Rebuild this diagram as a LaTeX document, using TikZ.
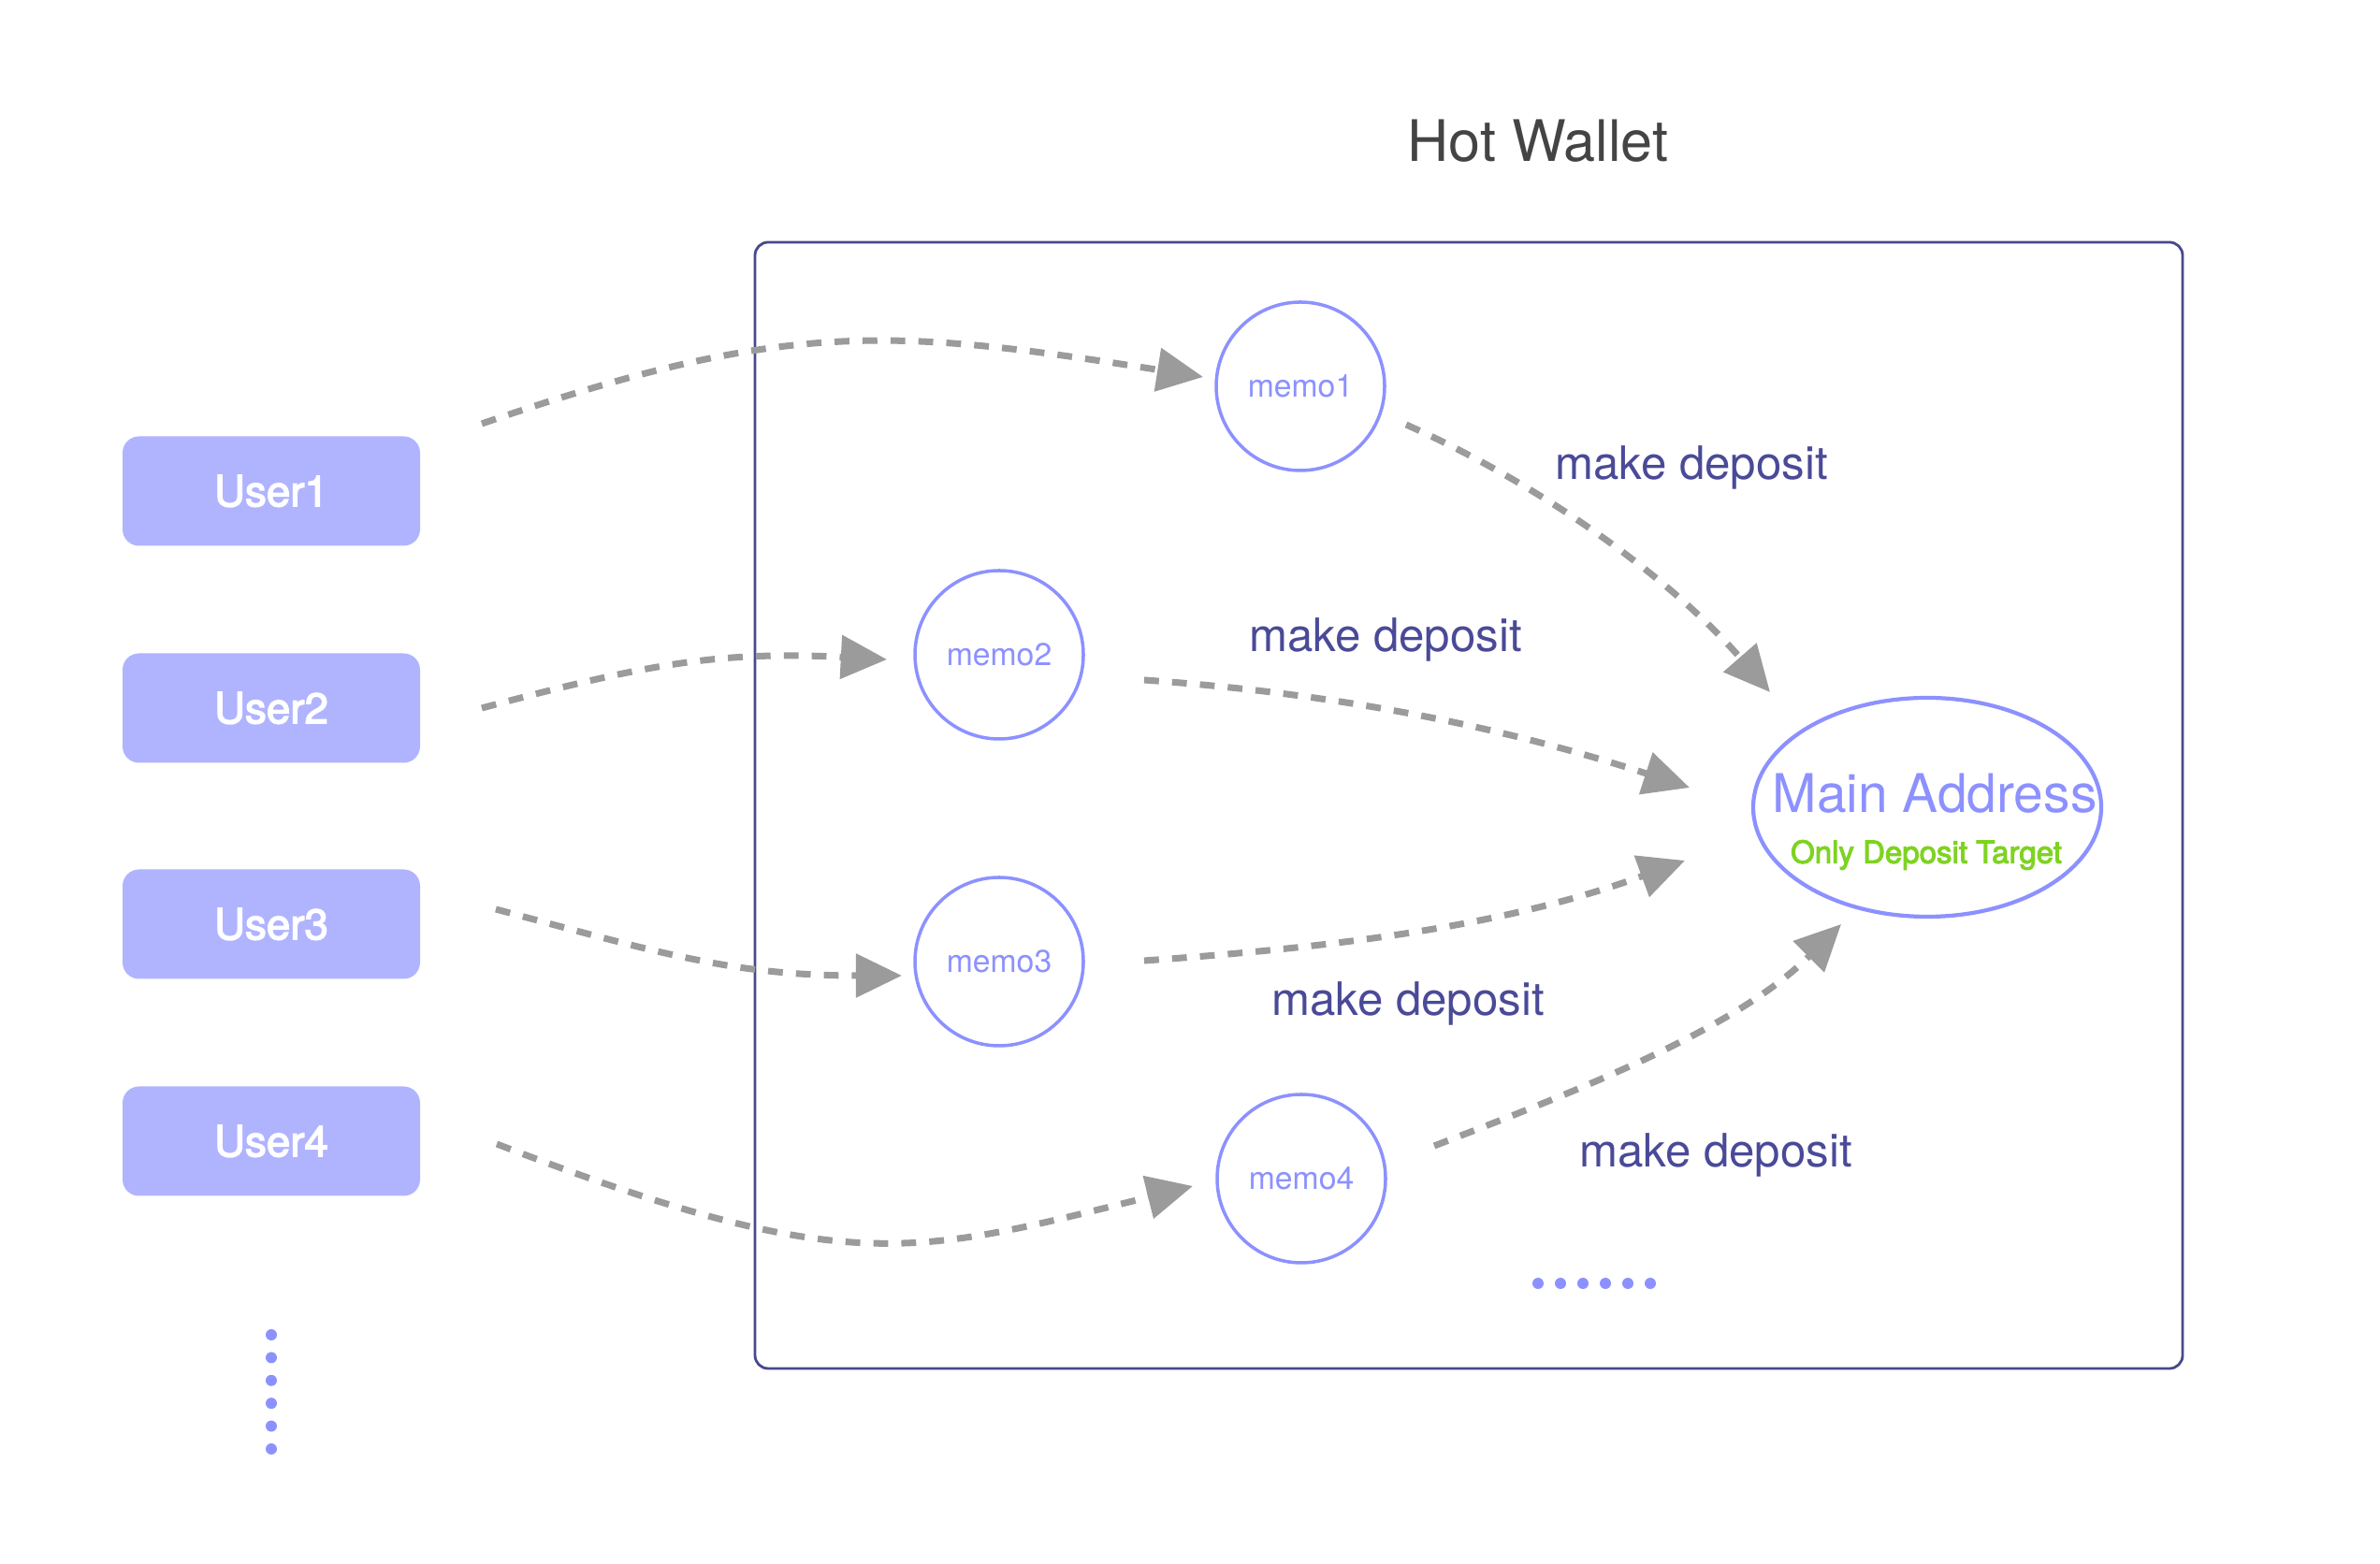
\documentclass[tikz,border=0pt]{standalone}
\usepackage{fontspec}
\setmainfont{TeX Gyre Heros}
\newfontfamily\mediumsans[FakeBold=3]{TeX Gyre Heros}
\usetikzlibrary{shapes.geometric, arrows.meta, positioning, calc}
\definecolor{userfill}{RGB}{176, 180, 255}
\definecolor{memoblue}{RGB}{140, 145, 255}
\definecolor{deepindigo}{RGB}{74, 74, 152}
\definecolor{walletline}{RGB}{72, 72, 142}
\definecolor{flowgray}{RGB}{155, 155, 155}
\definecolor{targetgreen}{RGB}{126, 211, 33}
\definecolor{titlegray}{RGB}{68, 68, 68}

\begin{document}
\begin{tikzpicture}[
  userbox/.style={fill=userfill, rounded corners=5pt, minimum width=3.18cm, minimum height=1.17cm, inner sep=0pt, outer sep=0pt, text=white, font=\mediumsans\fontsize{13}{15}\selectfont},
  memo/.style={circle, draw=memoblue, line width=1pt, minimum size=1.8cm, inner sep=0pt, outer sep=0pt, text=memoblue, font=\fontsize{9.6}{11}\selectfont},
  deplabel/.style={text=deepindigo, inner sep=0pt, font=\fontsize{14}{16}\selectfont},
  flow/.style={draw=flowgray, line width=2pt, dash pattern=on 4.5pt off 4pt, -{Triangle[length=14pt, width=13pt]}}
]
  \useasboundingbox (0, 0) rectangle (25.44, 16.72);

  \node[draw=walletline, line width=0.8pt, rounded corners=4pt, minimum width=15.26cm, minimum height=12.04cm, outer sep=0pt] (wallet) at (15.70, 8.11) {};
  \node[text=titlegray, inner sep=0pt, font=\fontsize{17.4}{20}\selectfont] (title) at (16.44, 15.21) {Hot Wallet};

  \node[userbox] (user1) at (2.90, 11.47) {User1};
  \node[userbox] (user2) at (2.90, 9.15) {User2};
  \node[userbox] (user3) at (2.90, 6.84) {User3};
  \node[userbox] (user4) at (2.90, 4.52) {User4};

  \node[memo] (memo1) at (13.90, 12.59) {memo1};
  \node[memo] (memo2) at (10.68, 9.72) {memo2};
  \node[memo] (memo3) at (10.68, 6.44) {memo3};
  \node[memo] (memo4) at (13.91, 4.12) {memo4};

  \node[ellipse, draw=memoblue, line width=1.2pt, minimum width=3.72cm, minimum height=2.34cm, outer sep=0pt] (main) at (20.60, 8.09) {};
  \node[text=memoblue, inner sep=0pt, font=\fontsize{16.2}{19}\selectfont] (mainlabel) at (20.68, 8.24) {Main Address};
  \node[text=targetgreen, inner sep=0pt, font=\mediumsans\fontsize{9.4}{11}\selectfont] (onlytarget) at (20.59, 7.58) {Only Deposit Target};

  \node[deplabel] (dep1) at (18.08, 11.72) {make deposit};
  \node[deplabel] (dep2) at (14.81, 9.88) {make deposit};
  \node[deplabel] (dep3) at (15.05, 5.99) {make deposit};
  \node[deplabel] (dep4) at (18.34, 4.37) {make deposit};

  \draw[flow] ([shift={(0.66,0.72)}]user1.east) .. controls +(19:3.4) and +(171:3.4) .. ([shift={(-0.14,0.10)}]memo1.west);
  \draw[flow] ([xshift=0.66cm]user2.east) .. controls +(15:1.8) and +(177:1.8) .. ([shift={(-0.30,-0.05)}]memo2.west);
  \draw[flow] ([shift={(0.81,0.16)}]user3.east) .. controls +(-15:1.8) and +(180:1.8) .. ([shift={(-0.14,-0.15)}]memo3.west);
  \draw[flow] ([shift={(0.82,-0.03)}]user4.east) .. controls +(-21:4.0) and +(194:3.1) .. ([shift={(-0.26,-0.08)}]memo4.west);

  \draw[flow] ([shift={(0.23,-0.41)}]memo1.east) .. controls +(-24:1.6) and +(131:1.6) .. ([shift={(-1.68,1.23)}]main.center);
  \draw[flow] ([shift={(0.65,-0.27)}]memo2.east) .. controls +(-4:2.2) and +(162:2.0) .. ([shift={(-2.54,0.21)}]main.center);
  \draw[flow] ([shift={(0.65,0.01)}]memo3.east) .. controls +(4:2.2) and +(200:2.0) .. ([shift={(-2.59,-0.57)}]main.center);
  \draw[flow] ([shift={(0.52,0.35)}]memo4.east) .. controls +(21:1.6) and +(225:1.6) .. ([shift={(-0.92,-1.25)}]main.center);

  \foreach \i in {0,...,5}
    \fill[memoblue] (2.90, 2.45-0.244*\i) circle (0.06);
  \foreach \i in {0,...,5}
    \fill[memoblue] (16.44+0.24*\i, 3.00) circle (0.06);
\end{tikzpicture}
\end{document}
